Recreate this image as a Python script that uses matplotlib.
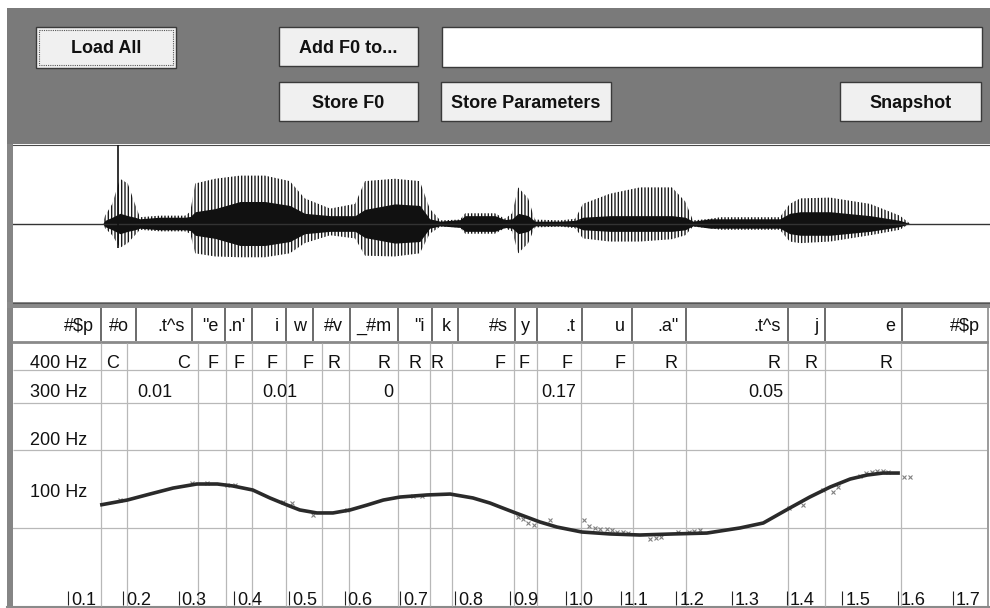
import numpy as np
import matplotlib.pyplot as plt
from matplotlib.patches import Rectangle

plt.rcParams['font.family'] = ['Liberation Sans', 'DejaVu Sans']
plt.rcParams['hatch.linewidth'] = 1.0

W, H = 990, 608
T_END = 1.7615   # time at the right edge of the table (s)
T_WAVE = 1.767   # time at the right edge of the waveform (s)

# waveform envelope: time (s), upper / lower peak amplitude, dense core amplitude
wave_t = [0.000, 0.163, 0.167, 0.180, 0.194, 0.208, 0.221, 0.230, 0.266, 0.312,
          0.321, 0.330, 0.366, 0.411, 0.456, 0.501, 0.528, 0.574, 0.619, 0.637,
          0.691, 0.736, 0.754, 0.773, 0.809, 0.818, 0.872, 0.890, 0.903, 0.914,
          0.932, 0.944, 0.990, 1.017, 1.031, 1.080, 1.134, 1.192, 1.216, 1.230,
          1.261, 1.279, 1.387, 1.405, 1.424, 1.478, 1.550, 1.604, 1.622, 1.767]
wave_hi = [0.00, 0.00, 0.10, 0.25, 0.57, 0.51, 0.25, 0.08, 0.10, 0.10,
           0.15, 0.51, 0.57, 0.61, 0.61, 0.54, 0.32, 0.19, 0.25, 0.54,
           0.57, 0.54, 0.19, 0.04, 0.05, 0.13, 0.13, 0.06, 0.13, 0.46,
           0.32, 0.05, 0.04, 0.06, 0.25, 0.38, 0.46, 0.46, 0.28, 0.04,
           0.06, 0.08, 0.08, 0.25, 0.32, 0.33, 0.25, 0.10, 0.00, 0.00]
wave_lo = [0.00, 0.00, 0.06, 0.15, 0.31, 0.25, 0.15, 0.08, 0.10, 0.10,
           0.13, 0.38, 0.42, 0.43, 0.43, 0.38, 0.25, 0.15, 0.19, 0.41,
           0.42, 0.38, 0.13, 0.04, 0.05, 0.13, 0.13, 0.06, 0.10, 0.38,
           0.25, 0.05, 0.04, 0.06, 0.19, 0.23, 0.23, 0.20, 0.15, 0.04,
           0.06, 0.08, 0.08, 0.23, 0.25, 0.23, 0.15, 0.08, 0.00, 0.00]
wave_core = [0.00, 0.00, 0.04, 0.08, 0.13, 0.10, 0.08, 0.06, 0.08, 0.08,
             0.09, 0.15, 0.19, 0.28, 0.28, 0.23, 0.13, 0.10, 0.10, 0.18,
             0.25, 0.23, 0.06, 0.03, 0.05, 0.10, 0.10, 0.05, 0.06, 0.13,
             0.10, 0.03, 0.03, 0.04, 0.08, 0.10, 0.10, 0.10, 0.08, 0.03,
             0.06, 0.06, 0.06, 0.13, 0.15, 0.15, 0.10, 0.04, 0.00, 0.00]
burst_t, burst_hi, burst_lo = 0.190, 1.00, 0.31

# phone segmentation (label, end time)
phones = ['#$p', '#o', '.t^s', '"e', ".n'", 'i', 'w', '#v', '_#m', '"i', 'k',
          '#s', 'y', '.t', 'u', '.a"', '.t^s', 'j', 'e', '#$p']
phone_ends = [0.160, 0.223, 0.324, 0.384, 0.433, 0.494, 0.543, 0.610, 0.697, 0.758,
              0.805, 0.908, 0.948, 1.029, 1.120, 1.217, 1.402, 1.469, 1.608, T_END]

# accent rows: column edges, type and value per column
col_edges = [0.160, 0.207, 0.335, 0.386, 0.433, 0.494, 0.559, 0.608, 0.697, 0.754,
             0.794, 0.906, 0.948, 1.027, 1.122, 1.217, 1.402, 1.469, 1.606, T_END]
accent_type = ['C', 'C', 'F', 'F', 'F', 'F', 'R', 'R', 'R', 'R',
               'F', 'F', 'F', 'F', 'R', 'R', 'R', 'R', '']
accent_value = ['', '0.01', '', '', '0.01', '', '', '0', '', '',
                '', '', '0.17', '', '', '0.05', '', '', '']
row_labels = ['400 Hz', '300 Hz', '200 Hz', '100 Hz']

# smoothed F0 contour (s, Hz)
f0_t = [0.158, 0.207, 0.248, 0.290, 0.333, 0.370, 0.398, 0.434, 0.465, 0.496,
        0.519, 0.550, 0.579, 0.610, 0.641, 0.670, 0.700, 0.749, 0.791, 0.832,
        0.863, 0.881, 0.905, 0.953, 0.984, 1.029, 1.080, 1.134, 1.194, 1.255,
        1.315, 1.357, 1.405, 1.441, 1.478, 1.514, 1.545, 1.573, 1.604]
f0_hz = [90.0, 93.3, 97.3, 101.3, 104.0, 104.0, 102.7, 100.0, 94.7, 90.0,
         86.7, 84.7, 84.7, 86.7, 90.0, 93.3, 95.3, 96.7, 97.3, 94.7,
         91.3, 88.7, 85.3, 78.7, 75.3, 72.0, 70.7, 70.0, 70.7, 71.3,
         74.7, 78.0, 88.0, 95.3, 102.0, 107.3, 110.0, 111.3, 111.3]

# raw pitch estimates (s, Hz)
raw_t = [0.194, 0.324, 0.351, 0.387, 0.402, 0.489, 0.505, 0.543, 0.604, 0.724,
         0.740, 0.914, 0.923, 0.932, 0.943, 0.971, 1.033, 1.042, 1.053, 1.062,
         1.074, 1.084, 1.093, 1.103, 1.112, 1.152, 1.163, 1.172, 1.203, 1.223,
         1.232, 1.243, 1.404, 1.429, 1.465, 1.483, 1.492, 1.532, 1.543, 1.554,
         1.563, 1.573, 1.582, 1.611, 1.622]
raw_hz = [93.3, 104.7, 104.7, 103.3, 103.3, 92.0, 91.3, 83.3, 86.7, 96.0,
          96.0, 82.0, 80.7, 78.0, 76.7, 80.0, 80.0, 76.0, 74.7, 74.0,
          74.0, 73.3, 72.0, 72.0, 71.3, 67.3, 68.0, 68.7, 72.0, 72.0,
          72.7, 73.3, 88.0, 90.0, 100.0, 98.7, 102.0, 109.3, 111.3, 112.0,
          112.7, 112.7, 112.0, 108.7, 108.7]

tick_times = [0.1, 0.2, 0.3, 0.4, 0.5, 0.6, 0.7, 0.8, 0.9, 1.0, 1.1, 1.2,
              1.3, 1.4, 1.5, 1.6, 1.7]

FS = 13
TXT = '#111111'
GRID = '#b8b8b8'

fig = plt.figure(figsize=(W / 100, H / 100), dpi=100)


def frame(x0, y0, x1, y1):
    return [x0 / W, 1 - y1 / H, (x1 - x0) / W, (y1 - y0) / H]


# window chrome, in pixel units
ax = fig.add_axes([0, 0, 1, 1])
ax.set_xlim(0, W)
ax.set_ylim(H, 0)
ax.axis('off')

ax.add_patch(Rectangle((7, 8), W - 7, 136, fc='#7a7a7a', lw=0))
ax.add_patch(Rectangle((7, 144), 6, H - 144, fc='#858585', lw=0))
ax.add_patch(Rectangle((7, 302), W - 7, 6, fc='#8a8a8a', lw=0))
ax.plot([13, W], [144.5, 144.5], color='#4a4a4a', lw=0.8)
ax.plot([13, W], [302.5, 302.5], color='#555555', lw=0.8)
ax.plot([13, 987], [341.5, 341.5], color='#8a8a8a', lw=2)
ax.plot([7, W], [607, 607], color='#8a8a8a', lw=1.5)
ax.plot([987.5, 987.5], [308, H], color='#8a8a8a', lw=1.2)

buttons = [('Load All', 36, 27, 176, 68), ('Add F0 to...', 279, 27, 418, 66),
           ('Store F0', 279, 82, 418, 121), ('Store Parameters', 441, 82, 611, 121),
           ('Snapshot', 840, 82, 981, 121)]
for label, x0, y0, x1, y1 in buttons:
    ax.add_patch(Rectangle((x0, y0), x1 - x0, y1 - y0, fc='#f0f0f0', ec='#3a3a3a', lw=1))
    ax.text((x0 + x1) / 2, y0 + 26, label, ha='center', va='baseline',
            fontsize=FS, fontweight='bold', color=TXT)
ax.add_patch(Rectangle((39, 30), 134, 35, fill=False, ec='#555555', lw=0.8, ls=(0, (1, 1))))
ax.add_patch(Rectangle((442, 27), 540, 40, fc='white', ec='#3a3a3a', lw=1))

for lab, base in zip(row_labels, [368, 397, 445, 497]):
    ax.text(87, base, lab, ha='right', va='baseline', fontsize=FS, color=TXT)

# speech waveform
axw = fig.add_axes(frame(12.7, 145, W, 302))
axw.set_xlim(0, T_WAVE)
axw.set_ylim(-1, 1)
axw.axis('off')
axw.axhline(0, color='#333333', lw=1.0)
axw.fill_between(wave_t, [-v for v in wave_lo], wave_hi, facecolor='none',
                 edgecolor='#1a1a1a', hatch='|||||', linewidth=0)
axw.fill_between(wave_t, [-v for v in wave_core], wave_core, color='#111111', lw=0)
axw.vlines(burst_t, -burst_lo, burst_hi, colors='#111111', lw=1.2)

# label table: x in seconds, y in pixels
axt = fig.add_axes(frame(12.7, 302, 987, H))
axt.set_xlim(0, T_END)
axt.set_ylim(H, 302)
axt.axis('off')
axt.vlines(phone_ends[:-1], 308, 341, colors='#6a6a6a', lw=1.4)
axt.vlines(col_edges[:-1], 343, 606, colors=GRID, lw=0.9)
axt.hlines([370, 403, 450], 0, T_END, colors=GRID, lw=0.9)

for lab, end in zip(phones, phone_ends):
    axt.annotate(lab, (end, 331), xytext=(-7, 0), textcoords='offset pixels',
                 ha='right', va='baseline', fontsize=FS, color=TXT)

for i, lab in enumerate(accent_type):
    if lab:
        axt.annotate(lab, (col_edges[i + 1], 368), xytext=(-8, 0), textcoords='offset pixels',
                     ha='right', va='baseline', fontsize=FS, color=TXT)

for i, lab in enumerate(accent_value):
    if not lab:
        continue
    if lab == '0.01':
        axt.annotate(lab, (col_edges[i], 397), xytext=(10, 0), textcoords='offset pixels',
                     ha='left', va='baseline', fontsize=FS, color=TXT)
    else:
        axt.annotate(lab, (col_edges[i + 1], 397), xytext=(-5, 0), textcoords='offset pixels',
                     ha='right', va='baseline', fontsize=FS, color=TXT)

axt.vlines(tick_times, 591, 605, colors='#222222', lw=0.8)
for t in tick_times:
    axt.annotate('%.1f' % t, (t, 605), xytext=(3, 0), textcoords='offset pixels',
                 ha='left', va='baseline', fontsize=FS, color=TXT)

# F0 panel
axf = fig.add_axes(frame(12.7, 450, 987, 606))
axf.set_xlim(0, T_END)
axf.set_ylim(22.67, 126.67)
axf.axis('off')
axf.axhline(75, color=GRID, lw=0.9)
axf.plot(raw_t, raw_hz, 'x', ms=3.2, mew=0.8, color='#808080')
axf.plot(f0_t, f0_hz, color='#2a2a2a', lw=2.6, solid_capstyle='butt',
         solid_joinstyle='round')

fig.savefig('out.png', dpi=100)
